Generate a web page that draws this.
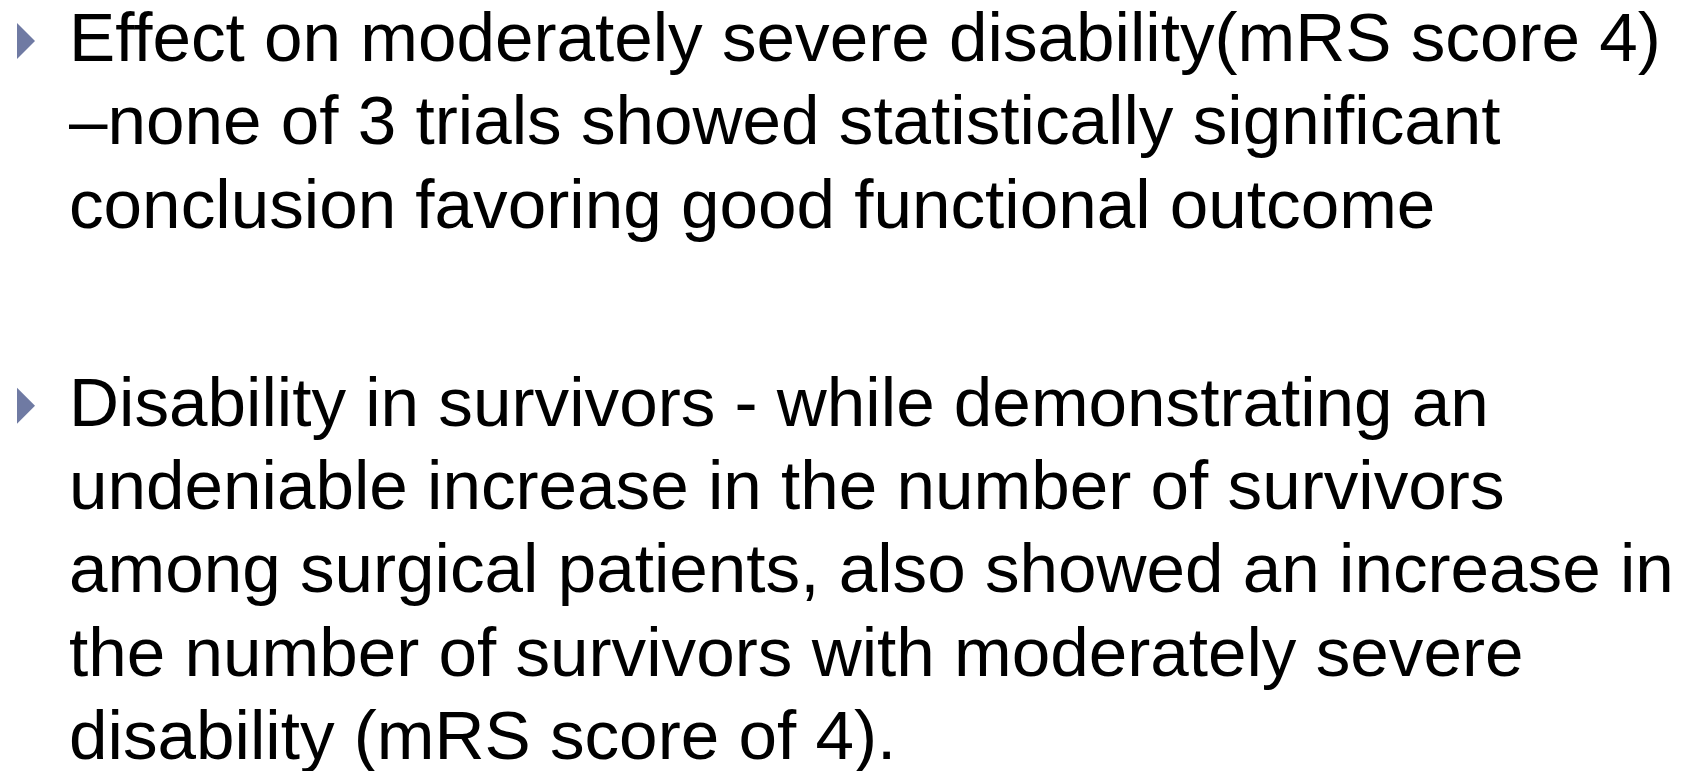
<!DOCTYPE html>
<html>
<head>
<meta charset="utf-8">
<script src="https://cdn.jsdelivr.net/npm/d3@7"></script>
<style>
  html, body { margin: 0; padding: 0; background: #fff; }
</style>
</head>
<body>
<div id="slide"></div>
<script>
var width = 1696
var height = 771

// slide content: one array of wrapped lines per bullet
var bullet1 = [
  'Effect on moderately severe disability(mRS score 4)',
  '\u2013none of 3 trials showed statistically significant',
  'conclusion favoring good functional outcome'
]
var bullet2 = [
  'Disability in survivors - while demonstrating an',
  'undeniable increase in the number of survivors',
  'among surgical patients, also showed an increase in',
  'the number of survivors with moderately severe',
  'disability (mRS score of 4).'
]
var bullets = [bullet1, bullet2]
// line slot where each bullet starts (blank gap between them)
var bulletStart = [0, 4.38]

var svg = d3
  .select('#slide')
  .append('svg')
  .attr('width', width)
  .attr('height', height)

// line slot -> baseline y
var lineScale = d3
  .scaleLinear()
  .domain([0, 1])
  .range([61, 144.3])

var textX = 69
var fontSize = 71
// first line spans about this many px in the original slide
var firstLineWidth = 1592

var groups = svg
  .selectAll('.bullet')
  .data(bullets)
  .enter()
  .append('g')
  .attr('class', 'bullet')

groups
  .append('path')
  .attr('d', function(d, i) {
    var y = lineScale(bulletStart[i]) - 20
    return 'M17,' + (y - 18) + 'L35,' + y + 'L17,' + (y + 18) + 'Z'
  })
  .attr('fill', '#6f7aa3')

var lines = groups
  .selectAll('text')
  .data(function(d, i) {
    return d.map(function(t, j) {
      return { text: t, slot: bulletStart[i] + j }
    })
  })
  .enter()
  .append('text')
  .attr('x', textX)
  .attr('y', d => lineScale(d.slot))
  .attr('font-family', 'Liberation Sans, Arial, sans-serif')
  .attr('font-size', fontSize)
  .attr('fill', '#000')
  .text(d => d.text)

// shrink the font so the first line fits the slide like the original
var measured = lines.node().getComputedTextLength()
lines.attr('font-size', (fontSize * firstLineWidth) / measured)
</script>
</body>
</html>
